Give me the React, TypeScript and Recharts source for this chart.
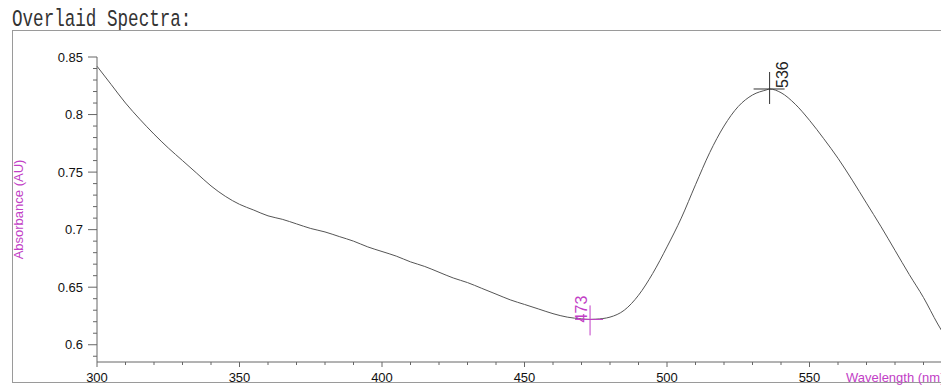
import { LineChart, Line, XAxis, YAxis, ReferenceDot } from "recharts"

// wavelength (nm) and absorbance (AU)
const wavelengths = [
  300, 305, 310, 315, 320, 325, 330, 335, 340, 345, 350, 355, 360, 365, 370, 375, 380, 385, 390, 395,
  400, 405, 410, 415, 420, 425, 430, 435, 440, 445, 450, 455, 460, 465, 470, 473, 475, 480, 485, 490,
  495, 500, 505, 510, 515, 520, 525, 530, 535, 536, 540, 545, 550, 555, 560, 565, 570, 575, 580, 585,
  590, 595, 600,
]
const absorbance = [
  0.842, 0.826, 0.81, 0.796, 0.783, 0.771, 0.76, 0.749, 0.738, 0.729, 0.722, 0.717, 0.712, 0.709, 0.705,
  0.701, 0.698, 0.694, 0.69, 0.685, 0.681, 0.677, 0.672, 0.668, 0.663, 0.658, 0.654, 0.649, 0.644, 0.639,
  0.635, 0.631, 0.627, 0.624, 0.6225, 0.622, 0.6222, 0.624, 0.63, 0.643, 0.662, 0.685, 0.71, 0.739, 0.767,
  0.79, 0.807, 0.817, 0.8215, 0.8222, 0.819, 0.809, 0.795, 0.779, 0.762, 0.743, 0.723, 0.703, 0.682, 0.661,
  0.641, 0.618, 0.598,
]

const xTicks = [
  300, 310, 320, 330, 340, 350, 360, 370, 380, 390, 400, 410, 420, 430, 440, 450, 460, 470, 480, 490,
  500, 510, 520, 530, 540, 550, 560, 570, 580, 590,
]
const xLabelled = [300, 350, 400, 450, 500, 550]
const yTicks = [
  0.59, 0.6, 0.61, 0.62, 0.63, 0.64, 0.65, 0.66, 0.67, 0.68, 0.69, 0.7, 0.71, 0.72, 0.73, 0.74, 0.75,
  0.76, 0.77, 0.78, 0.79, 0.8, 0.81, 0.82, 0.83, 0.84, 0.85,
]
const yLabelled = ["0.6", "0.65", "0.7", "0.75", "0.8", "0.85"]

const peak = { x: 536, y: 0.8222, label: "536" }
const valley = { x: 473, y: 0.622, label: "473" }

const data = wavelengths.map((w, i) => ({ w, a: absorbance[i] }))

const MAGENTA = "#c23fc6"
const AXIS = "#666"

const XTick = (props: any) => {
  const { x, y, payload } = props
  const major = xLabelled.includes(payload.value)
  return (
    <g>
      <line x1={x} x2={x} y1={y} y2={y + (major ? 5 : 3)} stroke={AXIS} />
      {major && (
        <text x={x} y={y + 20} textAnchor="middle" fontSize={13} fill="#111" fontFamily="Liberation Sans, Arial">
          {payload.value}
        </text>
      )}
    </g>
  )
}

const YTick = (props: any) => {
  const { x, y, payload } = props
  const txt = String(Number(payload.value.toFixed(2)))
  const major = yLabelled.includes(txt)
  return (
    <g>
      <line x1={x - (major ? 9 : 4)} x2={x} y1={y} y2={y} stroke={AXIS} />
      {major && (
        <text x={x - 14} y={y + 4.5} textAnchor="end" fontSize={13} fill="#111" fontFamily="Liberation Sans, Arial">
          {txt}
        </text>
      )}
    </g>
  )
}

const PeakMark = (props: any) => {
  const { cx, cy } = props
  return (
    <g>
      <line x1={cx - 16} x2={cx + 15} y1={cy} y2={cy} stroke="#333" />
      <line x1={cx} x2={cx} y1={cy - 17} y2={cy + 15} stroke="#333" />
      <text
        transform={`translate(${cx + 18},${cy - 1}) rotate(-90)`}
        fontSize={16}
        fill="#222"
        fontFamily="Liberation Sans, Arial"
      >
        {peak.label}
      </text>
    </g>
  )
}

const ValleyMark = (props: any) => {
  const { cx, cy } = props
  return (
    <g>
      <line x1={cx - 15} x2={cx + 13} y1={cy} y2={cy} stroke={MAGENTA} />
      <line x1={cx} x2={cx} y1={cy - 14} y2={cy + 16} stroke={MAGENTA} />
      <text
        transform={`translate(${cx - 3},${cy + 3}) rotate(-90)`}
        fontSize={16}
        fill={MAGENTA}
        fontFamily="Liberation Sans, Arial"
      >
        {valley.label}
      </text>
    </g>
  )
}

export default function App() {
  return (
    <div style={{ position: "absolute", left: 0, top: 0, width: 941, height: 385, overflow: "hidden", background: "#fff" }}>
      <svg width={941} height={385} style={{ position: "absolute", left: 0, top: 0 }}>
        <text
          transform="translate(12,26) scale(1,1.35)"
          fontFamily="Liberation Mono, monospace"
          fontSize={17.6}
          fill="#333"
        >
          Overlaid Spectra:
        </text>
        <rect x={12.5} y={30.5} width={1000} height={352} fill="none" stroke="#9a9a9a" />
      </svg>
      <div style={{ position: "absolute", left: 0, top: 0 }}>
        <LineChart width={965} height={385} data={data} margin={{ top: 57, right: 13, bottom: 0, left: 0 }}>
          <XAxis
            dataKey="w"
            type="number"
            domain={[300, 600]}
            ticks={xTicks}
            interval={0}
            height={23}
            tickSize={0}
            tickMargin={0}
            tickLine={false}
            axisLine={{ stroke: AXIS }}
            tick={<XTick />}
            label={(p: any) => (
              <text
                x={p.viewBox.x + 749}
                y={p.viewBox.y + 20}
                fontSize={13}
                fill={MAGENTA}
                fontFamily="Liberation Sans, Arial"
              >
                Wavelength (nm)
              </text>
            )}
          />
          <YAxis
            type="number"
            domain={[0.585, 0.85]}
            ticks={yTicks}
            interval={0}
            width={97}
            tickSize={0}
            tickMargin={0}
            tickLine={false}
            axisLine={{ stroke: AXIS }}
            tick={<YTick />}
            label={(p: any) => (
              <text
                transform={`translate(23,${p.viewBox.y + p.viewBox.height / 2}) rotate(-90)`}
                textAnchor="middle"
                fontSize={13}
                fill={MAGENTA}
                fontFamily="Liberation Sans, Arial"
              >
                Absorbance (AU)
              </text>
            )}
          />
          <Line
            type="monotone"
            dataKey="a"
            stroke="#555"
            strokeWidth={1}
            dot={false}
            activeDot={false}
            isAnimationActive={false}
          />
          <ReferenceDot x={valley.x} y={valley.y} shape={<ValleyMark />} />
          <ReferenceDot x={peak.x} y={peak.y} shape={<PeakMark />} />
        </LineChart>
      </div>
    </div>
  )
}
